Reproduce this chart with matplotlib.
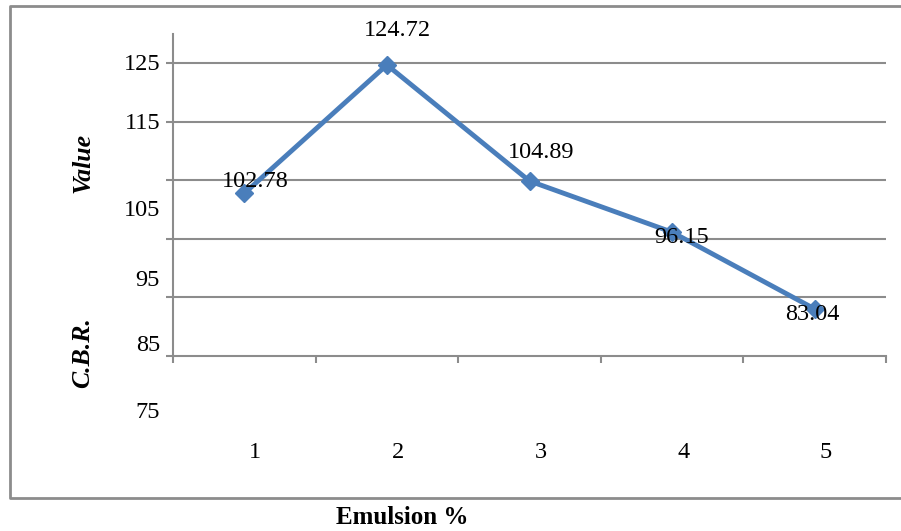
import matplotlib.pyplot as plt
from matplotlib.lines import Line2D

# C.B.R. results for each emulsion content
emulsion = [1, 2, 3, 4, 5]
cbr = [102.78, 124.72, 104.89, 96.15, 83.04]
y_ticks = [75, 85, 95, 105, 115, 125]

# label offsets in pixels (x, y) from the point they belong to
value_offsets = [(11, 12), (11, 34), (12, 29), (10, -5), (-2, -6)]
ytick_offsets = [-57, -48, -42, -30, -2, -1]

plt.rcParams['font.family'] = ['Liberation Serif', 'DejaVu Serif']

W, H = 901, 531
fig = plt.figure(figsize=(W / 100, H / 100), dpi=100)
ax = fig.add_axes([173 / W, 1 - 356 / H, (886 - 173) / W, (356 - 34) / H])

grey = '#8c8c8c'
blue = '#4a7ebb'
fs = 17.5

ax.set_xlim(0.5, 5.5)
ax.set_ylim(75, 130)

# gridlines at every 10 above the axis
for v in y_ticks[1:]:
    ax.axhline(v, color=grey, lw=1.5, zorder=1)

ax.plot(emulsion, cbr, color=blue, lw=3.5, marker='D', markersize=9,
        zorder=3)

for x, v, (dx, dy) in zip(emulsion, cbr, value_offsets):
    ax.annotate(f'{v:.2f}', xy=(x, v), xytext=(dx, dy),
                textcoords='offset pixels', ha='center', va='center',
                fontsize=fs, zorder=4)

# spines and ticks
for s in ['top', 'right']:
    ax.spines[s].set_visible(False)
for s in ['left', 'bottom']:
    ax.spines[s].set_color(grey)
    ax.spines[s].set_linewidth(1.5)

ax.set_xticks([0.5, 1.5, 2.5, 3.5, 4.5, 5.5])
ax.set_yticks(y_ticks)
ax.tick_params(axis='both', direction='out', length=5, width=1.5,
               color=grey, labelbottom=False, labelleft=False)

for v, dy in zip(y_ticks, ytick_offsets):
    ax.annotate(str(v), xy=(0, v), xycoords=ax.get_yaxis_transform(),
                xytext=(-13, dy), textcoords='offset pixels',
                ha='right', va='center', fontsize=fs)

for x in emulsion:
    ax.annotate(str(x), xy=(x, 0), xycoords=ax.get_xaxis_transform(),
                xytext=(11, -97), textcoords='offset pixels',
                ha='center', va='center', fontsize=fs)

# axis titles
fig.text(83 / W, 1 - 163 / H, 'Value', rotation=90, ha='center',
         va='center', fontsize=18.5, fontweight='bold', fontstyle='italic')
fig.text(83 / W, 1 - 353 / H, 'C.B.R.', rotation=90, ha='center',
         va='center', fontsize=18.5, fontweight='bold', fontstyle='italic')
fig.text(402 / W, 1 - 518 / H, 'Emulsion %', ha='center', va='center',
         fontsize=18, fontweight='bold')

# outer chart border: left, top and bottom only, it runs off the right edge
x0, x1 = 10 / W, 1.0
y0, y1 = 1 - 498 / H, 1 - 6 / H
fig.add_artist(Line2D([x1, x0, x0, x1], [y1, y1, y0, y0],
                      transform=fig.transFigure, color=grey, lw=2))

fig.savefig('out.png', dpi=100)
